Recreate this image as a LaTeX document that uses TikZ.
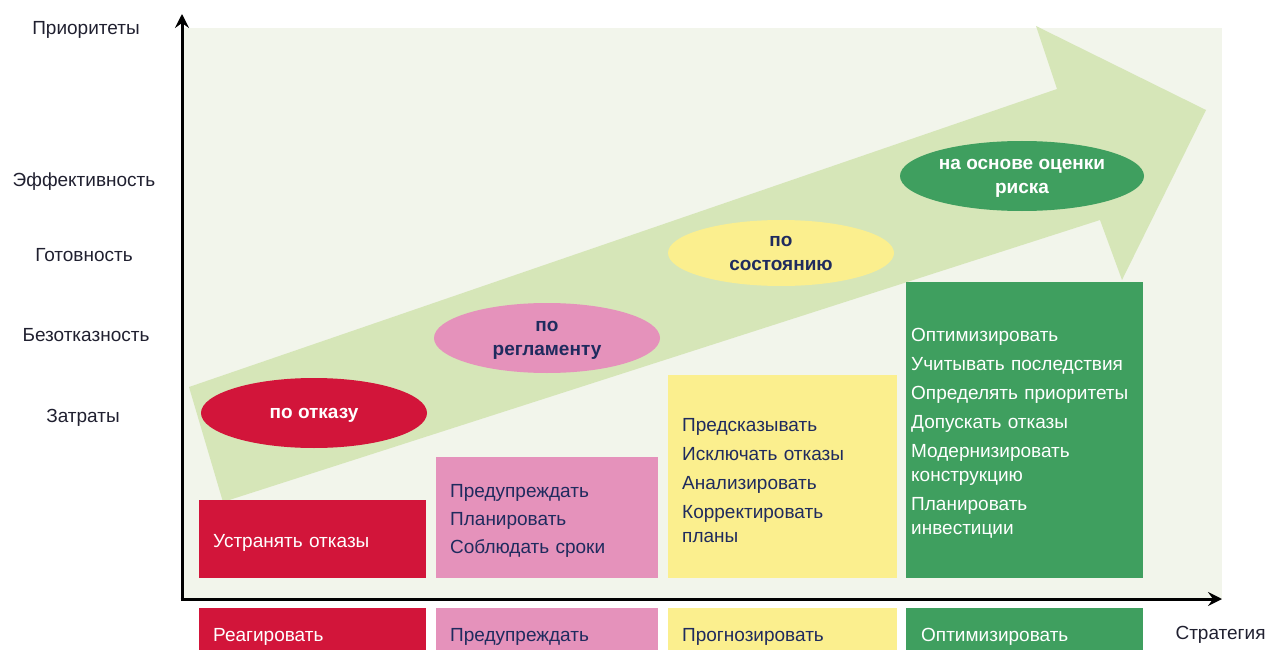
\documentclass[tikz,border=0pt]{standalone}
\usepackage{fontspec}
\setmainfont{Liberation Sans}
\usetikzlibrary{arrows.meta,positioning,shapes.geometric}
\definecolor{panel}{HTML}{F2F5EB}
\definecolor{band}{HTML}{D6E6B8}
\definecolor{fail}{HTML}{D2153A}
\definecolor{plan}{HTML}{E592BB}
\definecolor{cond}{HTML}{FBEF8E}
\definecolor{risk}{HTML}{3F9F5F}
\definecolor{ink}{HTML}{1F2B5E}
\definecolor{axisink}{HTML}{202030}

\begin{document}
\begin{tikzpicture}[x=1pt, y=-1pt,
  box/.style={anchor=north west, inner xsep=14pt, inner ysep=0pt, align=left,
    text height=20pt, font=\fontsize{19}{24}\selectfont},
  oval/.style={ellipse, inner sep=0pt, minimum width=226pt, minimum height=70pt,
    align=center, text depth=0pt, font=\bfseries\fontsize{19}{24}\selectfont},
  lbl/.style={font=\fontsize{19}{24}\selectfont, text=axisink},
  axis/.style={line width=3pt, -{Stealth[length=14pt, width=14pt, inset=5pt]}}
]
  \useasboundingbox (0,0) rectangle (1266,650);

  % background panel and the wide arrow behind everything
  \fill[panel] (182,28) rectangle (1222,599);
  \fill[band] (189,387) -- (1057,89) -- (1036,26) -- (1206,110)
    -- (1122,280) -- (1100,220) -- (223,502) -- cycle;

  % priorities on the vertical axis
  \node[lbl] (prio) at (86,30) {Приоритеты};
  \node[lbl] (eff) at (84,182) {Эффективность};
  \node[lbl] (ready) at (84,255) {Готовность};
  \node[lbl] (rel) at (86,335) {Безотказность};
  \node[lbl] (cost) at (83,418) {Затраты};

  % maintenance types
  \node[oval, fill=fail, text=white] (ofail) at (314,413) {по отказу};
  \node[oval, fill=plan, text=ink] (oplan) at (547,338) {по\\регламенту};
  \node[oval, fill=cond, text=ink, minimum height=66pt] (ocond) at (781,253) {по\\состоянию};
  \node[oval, fill=risk, text=white, minimum width=244pt] (orisk) at (1022,176)
    {на основе оценки\\риска};

  % tasks
  \node[box, fill=fail, text=white, text width=199pt, minimum height=78pt] (tfail)
    at (199,500) {Устранять отказы};
  \node[box, fill=plan, text=ink, text width=194pt, minimum height=121pt] (tplan)
    at (436,457) {Предупреждать\\[4pt]Планировать\\[4pt]Соблюдать сроки};
  \node[box, fill=cond, text=ink, text width=201pt, minimum height=203pt] (tcond)
    at (668,375) {Предсказывать\\[5pt]Исключать отказы\\[5pt]Анализировать\\[5pt]%
    Корректировать\\планы};
  \node[box, fill=risk, text=white, inner xsep=5pt, text width=227pt,
    minimum height=296pt] (trisk) at (906,282)
    {Оптимизировать\\[5pt]Учитывать последствия\\[5pt]Определять приоритеты\\[5pt]%
    Допускать отказы\\[5pt]Модернизировать\\конструкцию\\[5pt]Планировать\\инвестиции};

  % strategies below the axis
  \node[box, fill=fail, text=white, text width=199pt, minimum height=50pt] (sfail)
    at (199,608) {Реагировать};
  \node[box, fill=plan, text=ink, text width=194pt, minimum height=50pt] (splan)
    at (436,608) {Предупреждать};
  \node[box, fill=cond, text=ink, text width=201pt, minimum height=50pt] (scond)
    at (668,608) {Прогнозировать};
  \node[box, fill=risk, text=white, inner xsep=15pt, text width=207pt,
    minimum height=50pt] (srisk) at (906,608) {Оптимизировать};
  \node[lbl, anchor=west] (strat) at (1172,635) {Стратегия};

  % axes
  \coordinate (o) at (182,599);
  \coordinate (ytip) at (182,14);
  \coordinate (xtip) at (1222,599);
  \draw[axis] (o) -- (ytip);
  \draw[axis] ([xshift=-1.5pt]o) -- (xtip);
\end{tikzpicture}
\end{document}
